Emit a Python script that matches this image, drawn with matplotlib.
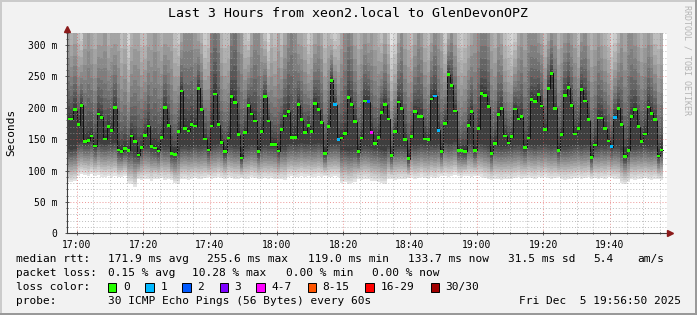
import numpy as np
import matplotlib
matplotlib.use("Agg")
import matplotlib.pyplot as plt
from matplotlib.ticker import MultipleLocator, FixedLocator, FuncFormatter
from matplotlib.patches import Rectangle
from matplotlib.lines import Line2D

plt.rcParams['font.family'] = ['DejaVu Sans Mono']

# median rtt per minute (ms), 16:57 .. 19:55
median = [
    182, 182, 197, 173, 204, 146, 148, 155, 139, 190,
    185, 150, 170, 164, 200, 133, 130, 135, 132, 155,
    146, 125, 137, 156, 171, 138, 136, 131, 153, 200,
    172, 127, 126, 162, 227, 167, 163, 173, 171, 231,
    197, 150, 133, 171, 222, 173, 145, 130, 152, 218,
    208, 157, 120, 161, 204, 190, 179, 130, 162, 218,
    179, 142, 142, 131, 165, 187, 194, 153, 153, 205,
    181, 161, 172, 162, 207, 197, 177, 127, 170, 244,
    205, 149, 152, 159, 216, 205, 178, 130, 152, 211,
    210, 161, 143, 153, 193, 205, 182, 124, 162, 209,
    199, 149, 119, 154, 194, 186, 186, 150, 149, 214,
    219, 164, 130, 175, 253, 236, 195, 132, 132, 130,
    172, 194, 132, 167, 223, 220, 202, 127, 143, 189,
    199, 155, 144, 154, 198, 182, 186, 137, 152, 213,
    210, 221, 203, 165, 231, 255, 199, 132, 157, 220,
    232, 204, 158, 167, 229, 211, 181, 121, 141, 184,
    184, 167, 147, 138, 185, 199, 173, 122, 132, 186,
    197, 170, 146, 158, 201, 191, 181, 123, 133,
]

# fastest ping per minute (ms) - lower edge of the smoke
low = [
    82, 81, 83, 92, 94, 93, 91, 94, 92, 93,
    90, 89, 91, 90, 92, 89, 90, 91, 80, 79,
    74, 86, 85, 87, 86, 84, 87, 86, 88, 85,
    86, 85, 80, 79, 86, 87, 85, 86, 88, 86,
    87, 88, 89, 87, 88, 90, 88, 87, 89, 88,
    86, 87, 88, 86, 87, 89, 88, 87, 86, 88,
    87, 88, 86, 87, 86, 85, 90, 91, 89, 90,
    92, 90, 91, 89, 90, 92, 90, 91, 89, 90,
    91, 90, 80, 81, 79, 80, 82, 86, 85, 87,
    86, 84, 83, 82, 80, 79, 86, 87, 85, 86,
    87, 86, 88, 89, 87, 88, 90, 88, 87, 89,
    88, 90, 91, 92, 90, 91, 93, 91, 90, 92,
    91, 90, 92, 91, 90, 88, 86, 85, 87, 86,
    85, 86, 87, 86, 88, 89, 87, 88, 89, 88,
    87, 89, 88, 90, 88, 87, 88, 89, 86, 85,
    86, 87, 88, 89, 87, 88, 89, 87, 88, 86,
    88, 87, 89, 88, 87, 86, 80, 79, 81, 86,
    85, 87, 86, 88, 86, 85, 87, 86, 85,
]

# pings (of 30) slower than the top of the graph (320 ms)
n_over = [
    6, 5, 6, 4, 3, 6, 7, 6, 5, 6,
    6, 7, 5, 6, 6, 6, 4, 5, 2, 5,
    6, 6, 4, 4, 6, 6, 7, 6, 5, 6,
    6, 6, 4, 3, 6, 8, 8, 8, 7, 6,
    5, 3, 4, 9, 10, 9, 5, 4, 4, 9,
    10, 8, 7, 4, 3, 6, 8, 8, 6, 4,
    2, 5, 4, 6, 4, 6, 8, 9, 8, 6,
    6, 5, 3, 4, 6, 7, 6, 4, 5, 4,
    3, 4, 6, 8, 9, 8, 6, 5, 6, 7,
    6, 7, 6, 5, 4, 6, 4, 1, 2, 6,
    8, 6, 5, 4, 6, 8, 7, 5, 4, 6,
    8, 7, 6, 3, 6, 8, 6, 4, 3, 4,
    5, 6, 7, 8, 9, 9, 8, 6, 5, 7,
    6, 4, 3, 2, 3, 6, 7, 6, 8, 8,
    8, 7, 6, 4, 6, 8, 7, 5, 6, 7,
    8, 7, 6, 4, 7, 8, 6, 5, 6, 7,
    6, 5, 4, 2, 3, 5, 7, 6, 8, 8,
    7, 6, 5, 6, 7, 6, 4, 4, 5,
]

# minutes with lost pings
loss_minute = [80, 81, 90, 91, 110, 111, 163, 164]
loss_count = [1, 1, 2, 5, 1, 1, 1, 1]

loss_colors = ['#26ff00', '#00b8ff', '#0059ff', '#7e00ff',
               '#ff00ff', '#ff5500', '#ff0000', '#a00000']
loss_labels = ['0', '1', '2', '3', '4-7', '8-15', '16-29', '30/30']

W, H = 697, 315
n = len(median)
PINGS = 30
TOP = 320

fig = plt.figure(figsize=(W / 100, H / 100), dpi=100)
fig.patch.set_facecolor('#f2f2f2')
ax = fig.add_axes([66.5 / W, 1 - 233.3 / H, 600 / W, (233.3 - 32.5) / H])
ax.set_facecolor('white')

# sorted pings per minute, rebuilt from the readings
med = np.array(median, float)
lo = np.array(low, float)
pings = np.zeros((n, PINGS))
for i in range(n):
    s = min(4.0, (med[i] - lo[i]) / 14)
    pings[i, :14] = lo[i] + s * np.arange(14)
    pings[i, 14] = med[i]
    n_up = 15 - n_over[i]
    for j in range(n_up):
        pings[i, 15 + j] = med[i] + (TOP - med[i]) * ((j + 1) / (n_up + 1)) ** 1.6
    pings[i, 15 + n_up:] = 400

edges = np.arange(n + 1) - 3.0   # minutes relative to 17:00
ext = lambda a: np.append(a, a[-1])

half = PINGS // 2
for ibot in range(1, half + 1):
    g = int(190 / half * (half - ibot)) + 50
    col = '#%02x%02x%02x' % (g, g, g)
    ax.fill_between(edges, ext(pings[:, ibot - 1]), ext(pings[:, PINGS - ibot]),
                    step='post', color=col, linewidth=0, zorder=1)

# median line and loss-coloured markers
ax.step(edges, ext(med), where='post', color='#101010', lw=0.7, zorder=2)
loss = np.zeros(n, int)
for m, c in zip(loss_minute, loss_count):
    loss[m] = c
def loss_idx(c):
    if c <= 3:
        return c
    if c <= 7:
        return 4
    if c <= 15:
        return 5
    if c <= 29:
        return 6
    return 7
mcol = [loss_colors[loss_idx(c)] for c in loss]
ax.bar(edges[:-1], 4.2, bottom=med - 2.1, width=1, align='edge',
       color=mcol, linewidth=0, zorder=3)

ax.set_xlim(-3, 177)
ax.set_ylim(0, TOP)

# grid
ax.yaxis.set_major_locator(MultipleLocator(50))
ax.yaxis.set_minor_locator(MultipleLocator(10))
ax.xaxis.set_major_locator(FixedLocator(np.arange(0, 161, 20)))
ax.xaxis.set_minor_locator(MultipleLocator(5))
ax.set_axisbelow(False)
ax.grid(which='minor', color='#a0a0a0', alpha=0.7, lw=0.7, linestyle=(0, (1, 2)), zorder=4)
ax.grid(which='major', color='#e05050', alpha=0.6, lw=0.7, linestyle=(0, (1, 2)), zorder=4)

def fmt_time(v, pos):
    t = 17 * 60 + int(round(v))
    return '%02d:%02d' % (t // 60, t % 60)
def fmt_ms(v, pos):
    return '0' if v == 0 else '%d m' % v
ax.xaxis.set_major_formatter(FuncFormatter(fmt_time))
ax.yaxis.set_major_formatter(FuncFormatter(fmt_ms))
ax.tick_params(which='both', direction='inout', color='#404040', width=0.6,
               labelsize=7, labelcolor='black')
ax.tick_params(which='major', length=3)
ax.tick_params(which='minor', length=2)
ax.tick_params(axis='y', pad=5)
ax.tick_params(axis='x', pad=3)

for sp in ['top', 'right']:
    ax.spines[sp].set_visible(False)
for sp in ['left', 'bottom']:
    ax.spines[sp].set_color('#404040')
    ax.spines[sp].set_linewidth(0.8)
    ax.spines[sp].set_zorder(5)

# axis extensions with arrows
ax.add_line(Line2D([0, 0], [1, 1.02], transform=ax.transAxes, color='#404040',
                   lw=0.8, clip_on=False))
ax.add_line(Line2D([1, 1.006], [0, 0], transform=ax.transAxes, color='#404040',
                   lw=0.8, clip_on=False))
ax.plot([0], [1.017], marker='^', ms=4.5, color='#8b1a1a', transform=ax.transAxes,
        clip_on=False, zorder=6)
ax.plot([1.006], [0], marker='>', ms=4.5, color='#8b1a1a', transform=ax.transAxes,
        clip_on=False, zorder=6)

def ptext(x, y, s, **kw):
    return fig.text(x / W, 1 - y / H, s, **kw)

ptext(348.5, 13.5, 'Last 3 Hours from xeon2.local to GlenDevonOPZ',
      ha='center', va='center', fontsize=9.5)
ptext(11, 132, 'Seconds', rotation=90, ha='center', va='center', fontsize=8)
ptext(687, 60, 'RRDTOOL / TOBI OETIKER', rotation=270, ha='center', va='center',
      fontsize=6, color='#b4b4b4')

LF = 8
r1, r2, r3, r4 = 259.4, 273.3, 287, 301
ptext(16, r1, 'median rtt:', va='center', fontsize=LF)
for x, s in [(107.6, '171.9 ms avg'), (207, '255.6 ms max'), (307.6, '119.0 ms min'),
             (408, '133.7 ms now'), (508, '31.5 ms sd'), (593, '5.4'), (637, 'am/s')]:
    ptext(x, r1, s, va='center', fontsize=LF)
ptext(16, r2, 'packet loss:', va='center', fontsize=LF)
for x, s in [(107.6, '0.15 % avg'), (192.4, '10.28 % max'), (285.8, '0.00 % min'),
             (371.6, '0.00 % now')]:
    ptext(x, r2, s, va='center', fontsize=LF)
ptext(16, r3, 'loss color:', va='center', fontsize=LF)
box_x = [108, 145.3, 182.2, 219.6, 256.4, 307.6, 365.3, 430.7]
for bx, col, lab in zip(box_x, loss_colors, loss_labels):
    fig.patches.append(Rectangle((bx / W, 1 - (r3 + 4.5) / H), 8.4 / W, 9 / H,
                                 transform=fig.transFigure, facecolor=col,
                                 edgecolor='black', linewidth=0.7))
    ptext(bx + 15, r3, lab, va='center', fontsize=LF)
ptext(16, r4, 'probe:', va='center', fontsize=LF)
ptext(107.6, r4, '30 ICMP Echo Pings (56 Bytes) every 60s', va='center', fontsize=LF)
ptext(681, r4, 'Fri Dec  5 19:56:50 2025', va='center', ha='right', fontsize=LF)

# 3d frame
fig.patches.append(Rectangle((0, 1 - 2 / H), 1, 2 / H, transform=fig.transFigure,
                             facecolor='#cbcbcb', linewidth=0))
fig.patches.append(Rectangle((0, 0), 2 / W, 1, transform=fig.transFigure,
                             facecolor='#cbcbcb', linewidth=0))
fig.patches.append(Rectangle((0, 0), 1, 2 / H, transform=fig.transFigure,
                             facecolor='#999999', linewidth=0))
fig.patches.append(Rectangle((1 - 2 / W, 0), 2 / W, 1, transform=fig.transFigure,
                             facecolor='#999999', linewidth=0))

fig.savefig('out.png', dpi=100, facecolor=fig.get_facecolor())
